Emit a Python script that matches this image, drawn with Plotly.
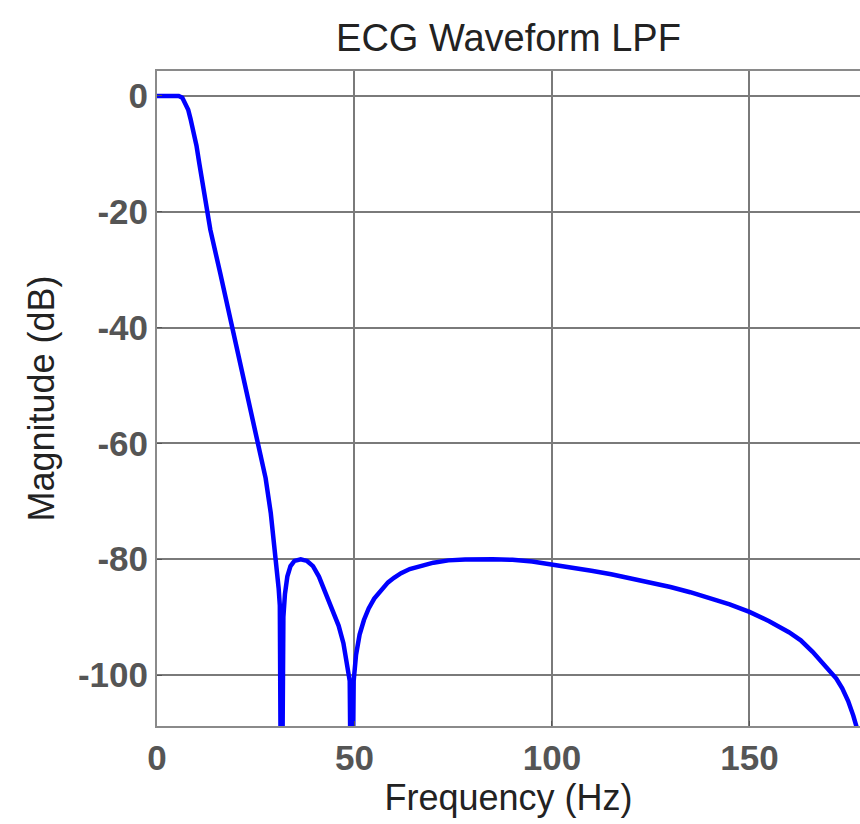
import plotly.graph_objects as go

# Frequency response (Hz, dB); nulls drop below the axis floor
freq_hz = [0, 3, 5.5, 6.4, 7.0, 7.5, 7.9, 8.5, 9.2, 10.0, 10.7, 11.4, 12.0, 12.7, 13.5,
           16.0, 19.1, 22.4, 25.7, 27.5, 28.8, 29.5, 30.3, 30.8, 31.1, 31.5, 32.0, 32.4,
           33.0, 33.8, 34.8, 36.4, 38.0, 39.5, 41.0, 42.7, 44.5, 46.0, 47.2, 48.2, 48.8,
           49.3, 49.8, 50.4, 51.3, 52.4, 53.6, 55.0, 56.7, 58.5, 60.0, 61.8, 64.0, 67.7,
           70.0, 73.8, 78.0, 85.0, 90.0, 95.0, 100.0, 105.0, 110.0, 115.0, 120.0, 125.0,
           130.0, 135.0, 140.0, 145.0, 150.0, 155.0, 160.0, 163.0, 166.0, 168.5, 170.5,
           172.0, 173.5, 175.0, 176.3, 177.2, 178.0]
mag_db = [0, 0, 0, -0.3, -1.0, -1.7, -2.4, -4.0, -5.9, -8.6, -11.6, -14.6, -17.4, -20.2,
          -23.1, -30.6, -40, -50, -60, -66, -72, -76, -81, -85, -88, -140, -90, -86,
          -83, -81.2, -80.3, -80, -80.3, -81.2, -83, -85.8, -88.8, -91.5, -94.5, -98,
          -101, -140, -101, -96.5, -93, -90.5, -88.5, -86.8, -85.3, -84, -83.2, -82.4,
          -81.7, -81, -80.6, -80.2, -80.05, -80, -80.1, -80.4, -80.9, -81.4, -82, -82.6,
          -83.3, -84, -84.8, -85.7, -86.7, -87.8, -89.1, -90.7, -92.6, -94, -96, -97.8,
          -99.3, -100.6, -102.3, -104.5, -107, -109, -111]

x_ticks = [0, 50, 100, 150]
y_ticks = [0, -20, -40, -60, -80, -100]
title_text = "ECG Waveform LPF"
x_label = "Frequency (Hz)"
y_label = "Magnitude (dB)"

fig = go.Figure()
fig.add_trace(go.Scatter(x=freq_hz, y=mag_db, mode="lines",
                         line=dict(color="#0000ff", width=4.5), showlegend=False))

grid = "#7a7a7a"
fig.update_layout(
    width=860, height=824,
    margin=dict(l=157, r=0, t=71, b=98),
    paper_bgcolor="white", plot_bgcolor="white",
    title=dict(text=title_text, x=0.5, xref="paper", xanchor="center",
               y=1 - 38 / 824, yanchor="middle",
               font=dict(family="Liberation Sans", size=38, color="#222222")),
    font=dict(family="Liberation Sans"),
)
fig.update_xaxes(range=[0, 178], tickvals=x_ticks, ticktext=[str(v) for v in x_ticks],
                 showgrid=True, gridcolor=grid, gridwidth=2,
                 showline=True, linecolor="#8a8a8a", linewidth=2, mirror=True,
                 ticks="inside", ticklen=5, tickcolor="#555555",
                 tickfont=dict(family="Liberation Sans", size=35, color="#555555", weight="bold"),
                 title=dict(text=x_label, standoff=8,
                            font=dict(family="Liberation Sans", size=36, color="#222222")),
                 zeroline=False)
fig.update_yaxes(range=[-108.8, 4.3], tickvals=y_ticks, ticktext=[str(v) for v in y_ticks],
                 showgrid=True, gridcolor=grid, gridwidth=2,
                 showline=True, linecolor="#8a8a8a", linewidth=2, mirror=False,
                 ticks="inside", ticklen=5, tickcolor="#555555",
                 tickfont=dict(family="Liberation Sans", size=35, color="#555555", weight="bold"),
                 title=dict(text=y_label, standoff=12,
                            font=dict(family="Liberation Sans", size=36, color="#222222")),
                 zeroline=False)

fig.write_html("out.html")
